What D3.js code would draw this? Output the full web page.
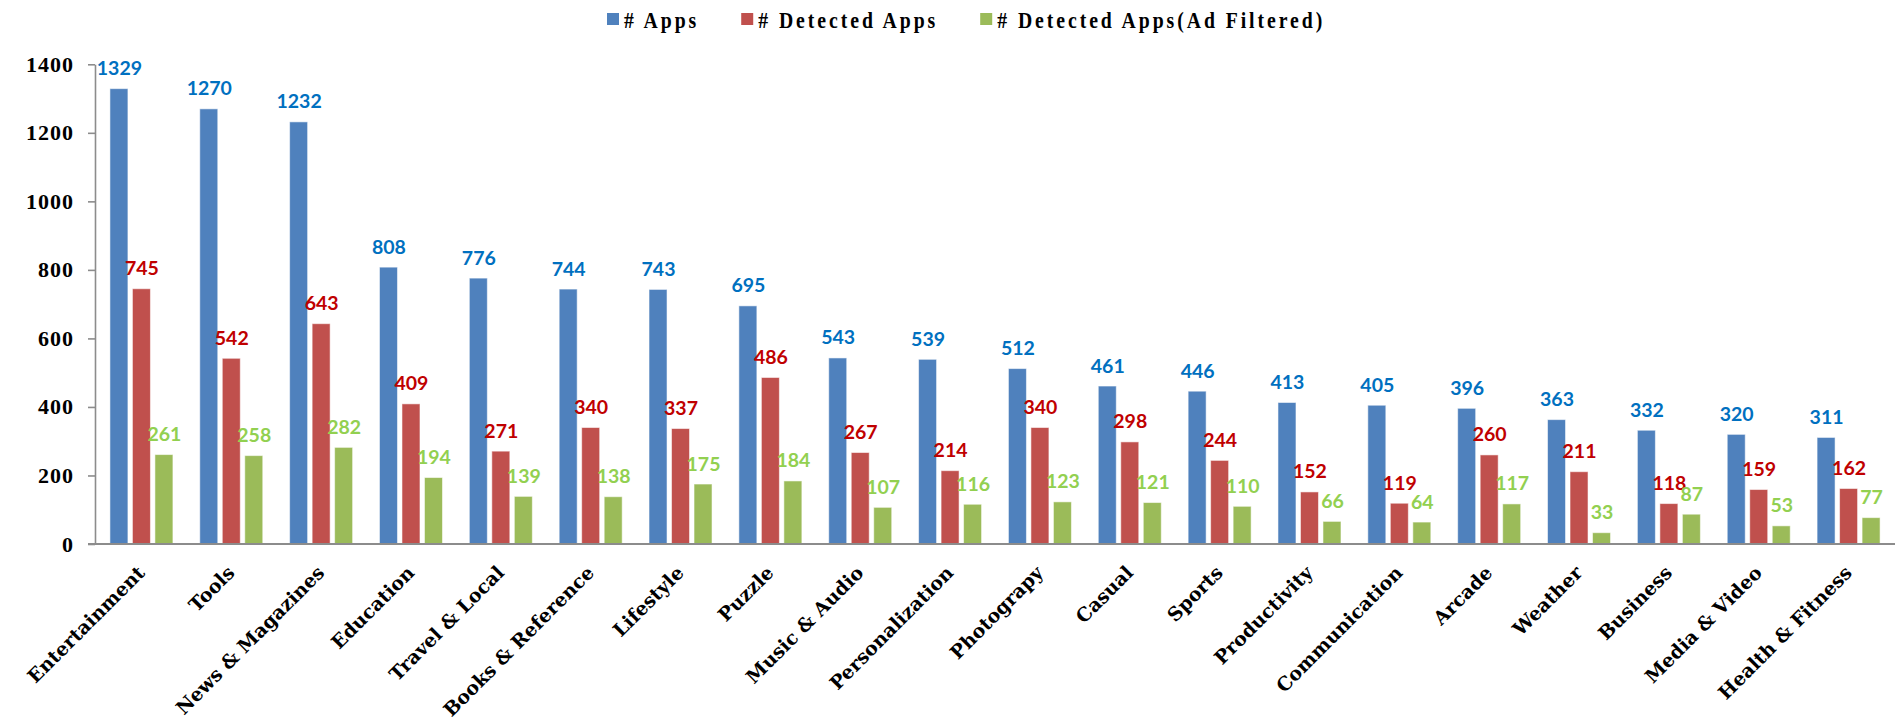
<!DOCTYPE html>
<html>
<head>
<meta charset="utf-8">
<script src="https://cdn.jsdelivr.net/npm/d3@7"></script>
<style>
  html, body { margin: 0; padding: 0; background: #fff; }
  svg { display: block; }
</style>
</head>
<body>
<div id="chart"></div>
<script>
const categories = ["Entertainment", "Tools", "News & Magazines", "Education", "Travel & Local",
  "Books & Reference", "Lifestyle", "Puzzle", "Music & Audio", "Personalization", "Photograpy",
  "Casual", "Sports", "Productivity", "Communication", "Arcade", "Weather", "Business",
  "Media & Video", "Health & Fitness"];
const seriesNames = ["# Apps", "# Detected Apps", "# Detected Apps(Ad Filtered)"];
const apps = [1329, 1270, 1232, 808, 776, 744, 743, 695, 543, 539, 512, 461, 446, 413, 405, 396, 363, 332, 320, 311];
const detectedApps = [745, 542, 643, 409, 271, 340, 337, 486, 267, 214, 340, 298, 244, 152, 119, 260, 211, 118, 159, 162];
const detectedFiltered = [261, 258, 282, 194, 139, 138, 175, 184, 107, 116, 123, 121, 110, 66, 64, 117, 33, 87, 53, 77];
const yTickValues = [0, 200, 400, 600, 800, 1000, 1200, 1400];

const barColors = ["#4F81BD", "#C0504D", "#9BBB59"];
const labelColors = ["#0070C0", "#C00000", "#92D050"];

const W = 1895, H = 724;
const plotLeft = 95, plotRight = 1892, plotTop = 64.3, plotBottom = 544;

const seriesValues = [apps, detectedApps, detectedFiltered];
const rows = categories.map((c, i) => ({
  category: c,
  values: seriesNames.map((s, k) => ({ series: s, k: k, value: seriesValues[k][i] }))
}));

const svg = d3.select("#chart").append("svg")
  .attr("width", W).attr("height", H);

const x0 = d3.scaleBand().domain(categories).range([plotLeft, plotRight]).padding(0);
const x1 = d3.scaleBand().domain(seriesNames).range([0, 63]).paddingInner(0.2).paddingOuter(0);
const y = d3.scaleLinear().domain([0, 1400]).range([plotBottom, plotTop]);

const groupStart = c => x0(c) + x0.bandwidth() / 2 - 30;

// Bars
const groups = svg.append("g").selectAll("g").data(rows).join("g");
groups.selectAll("rect").data(d => d.values.map(v => Object.assign({ category: d.category }, v)))
  .join("rect")
  .attr("x", d => groupStart(d.category) + x1(d.series))
  .attr("y", d => y(d.value))
  .attr("width", x1.bandwidth())
  .attr("height", d => y(0) - y(d.value))
  .attr("fill", d => barColors[d.k])
  .attr("stroke", "rgba(255,255,255,0.55)")
  .attr("stroke-width", 1);

// Value labels
groups.selectAll("text").data(d => d.values.map(v => Object.assign({ category: d.category }, v)))
  .join("text")
  .attr("x", d => groupStart(d.category) + x1(d.series) + x1.bandwidth() / 2 + 0.5)
  .attr("y", d => y(d.value) - 13.5)
  .attr("text-anchor", "middle")
  .attr("font-family", "Lato, 'Open Sans', sans-serif")
  .attr("font-weight", "bold")
  .attr("font-size", "19.5px")
  .attr("fill", d => labelColors[d.k])
  .text(d => d.value);

// Y axis
const yAxis = d3.axisLeft(y).tickValues(yTickValues).tickFormat(d3.format("d"))
  .tickSize(7).tickSizeOuter(0).tickPadding(14);
const gy = svg.append("g").attr("transform", `translate(${plotLeft},0)`).call(yAxis);
gy.select(".domain").attr("stroke", "#8C8C8C").attr("stroke-width", 1.6);
gy.selectAll(".tick line").attr("stroke", "#8C8C8C").attr("stroke-width", 1.6);
gy.selectAll(".tick text")
  .attr("font-family", "'Liberation Serif', 'Times New Roman', serif")
  .attr("font-weight", "bold")
  .attr("font-size", "22px")
  .attr("letter-spacing", "1px")
  .attr("fill", "#000");

// X axis
const xAxis = d3.axisBottom(x0).tickSize(0).tickSizeOuter(0).tickPadding(0);
const gx = svg.append("g").attr("transform", `translate(0,${y(0)})`).call(xAxis);
gx.select(".domain").remove();
gx.append("line")
  .attr("x1", plotLeft - 7).attr("x2", W)
  .attr("y1", 0).attr("y2", 0)
  .attr("stroke", "#8C8C8C").attr("stroke-width", 1.8);
gx.selectAll(".tick text")
  .attr("text-anchor", "end")
  .attr("dy", null)
  .attr("y", null)
  .attr("transform", "translate(6,30) rotate(-45)")
  .attr("font-family", "'DejaVu Serif', serif")
  .attr("font-weight", "bold")
  .attr("font-size", "19px")
  .attr("fill", "#000");

// Legend
const legend = svg.append("g");
let lx = 607;
const sx = 0.84;
seriesNames.forEach((s, k) => {
  legend.append("rect")
    .attr("x", lx).attr("y", 13).attr("width", 12).attr("height", 12)
    .attr("fill", barColors[k]);
  const tg = legend.append("g").attr("transform", `translate(${lx + 17},28) scale(${sx},1)`);
  const t = tg.append("text")
    .attr("x", 0).attr("y", 0)
    .attr("font-family", "'Liberation Serif', 'Times New Roman', serif")
    .attr("font-weight", "bold")
    .attr("font-size", "23.5px")
    .attr("letter-spacing", "3.5px")
    .attr("fill", "#000")
    .text(s);
  lx = lx + 17 + t.node().getComputedTextLength() * sx + 42;
});
</script>
</body>
</html>
